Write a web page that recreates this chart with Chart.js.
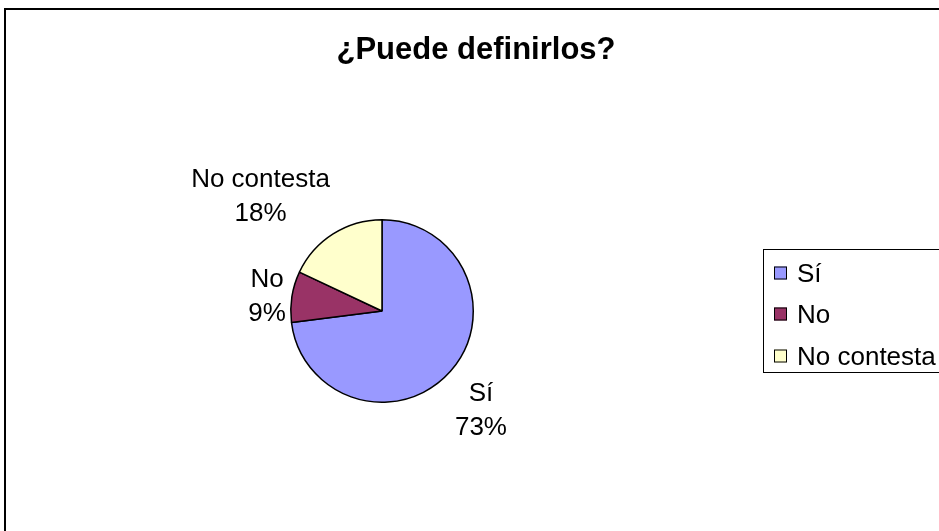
<!DOCTYPE html>
<html><head><meta charset="utf-8">
<script src="https://cdn.jsdelivr.net/npm/chart.js@4/dist/chart.umd.min.js"></script>
<style>html,body{margin:0;padding:0;background:#fff;}#wrap{width:939px;height:531px;}</style>
</head><body><div id="wrap"><canvas id="c" width="939" height="531"></canvas></div>
<script>
const titleText = '¿Puede definirlos?';
const categories = ['Sí', 'No', 'No contesta'];
const values = [73, 9, 18];
const percentLabels = ['73%', '9%', '18%'];
const colors = ['#9999FF', '#993366', '#FFFFCC'];

const FONT = '"Liberation Sans", Arial, sans-serif';

const decorPlugin = {
  id: 'decor',
  beforeDraw(chart) {
    const ctx = chart.ctx;
    ctx.save();
    ctx.fillStyle = '#fff';
    ctx.fillRect(0, 0, chart.width, chart.height);
    ctx.strokeStyle = '#000';
    ctx.lineWidth = 2;
    ctx.strokeRect(5, 9, chart.width + 20, chart.height + 20);
    ctx.restore();
  },
  afterDraw(chart) {
    const ctx = chart.ctx;
    ctx.save();
    // title
    ctx.fillStyle = '#000';
    ctx.font = 'bold 31px ' + FONT;
    ctx.textAlign = 'center';
    ctx.textBaseline = 'alphabetic';
    ctx.fillText(titleText, 476, 59);

    // data labels
    const meta = chart.getDatasetMeta(0);
    ctx.font = '26px ' + FONT;
    const lh = 34;
    meta.data.forEach((arc, i) => {
      const mid = (arc.startAngle + arc.endAngle) / 2;
      const r = arc.outerRadius + 6;
      const c = Math.cos(mid), s = Math.sin(mid);
      const px = arc.x + c * r;
      const py = arc.y + s * r;
      const l1 = categories[i], l2 = percentLabels[i];
      const w = Math.max(ctx.measureText(l1).width, ctx.measureText(l2).width);
      const h = lh * 2;
      const k = Math.min(1, Math.max(0, (Math.abs(s) - 0.15) / 0.45));
      const cx = px + Math.sign(c) * w / 2;
      const cy = py + Math.sign(s) * k * h / 2;
      ctx.textAlign = 'center';
      ctx.textBaseline = 'alphabetic';
      ctx.fillText(l1, cx, cy - lh / 2 + 9);
      ctx.fillText(l2, cx, cy + lh / 2 + 9);
    });

    // legend
    const lx = 763, ly = 249, lw = 200, lhgt = 123;
    ctx.lineWidth = 1;
    ctx.strokeStyle = '#000';
    ctx.strokeRect(lx + 0.5, ly + 0.5, lw, lhgt);
    const baselines = [282, 323, 365];
    categories.forEach((cat, i) => {
      const y = baselines[i] - 9.5;
      ctx.fillStyle = colors[i];
      ctx.fillRect(774, y - 6, 13, 13);
      ctx.strokeStyle = '#000';
      ctx.strokeRect(774.5, y - 5.5, 12, 12);
      ctx.fillStyle = '#000';
      ctx.textAlign = 'left';
      ctx.textBaseline = 'alphabetic';
      ctx.fillText(cat, 797, baselines[i]);
    });
    ctx.restore();
  }
};

new Chart(document.getElementById('c'), {
  type: 'pie',
  data: {
    labels: categories,
    datasets: [{
      data: values,
      backgroundColor: colors,
      borderColor: '#000',
      borderWidth: 1.5,
      borderAlign: 'center'
    }]
  },
  options: {
    responsive: false,
    animation: false,
    events: [],
    layout: { padding: { left: 290, right: 465, top: 219, bottom: 128 } },
    plugins: {
      legend: { display: false },
      title: { display: false },
      tooltip: { enabled: false }
    }
  },
  plugins: [decorPlugin]
});
</script>
</body></html>
